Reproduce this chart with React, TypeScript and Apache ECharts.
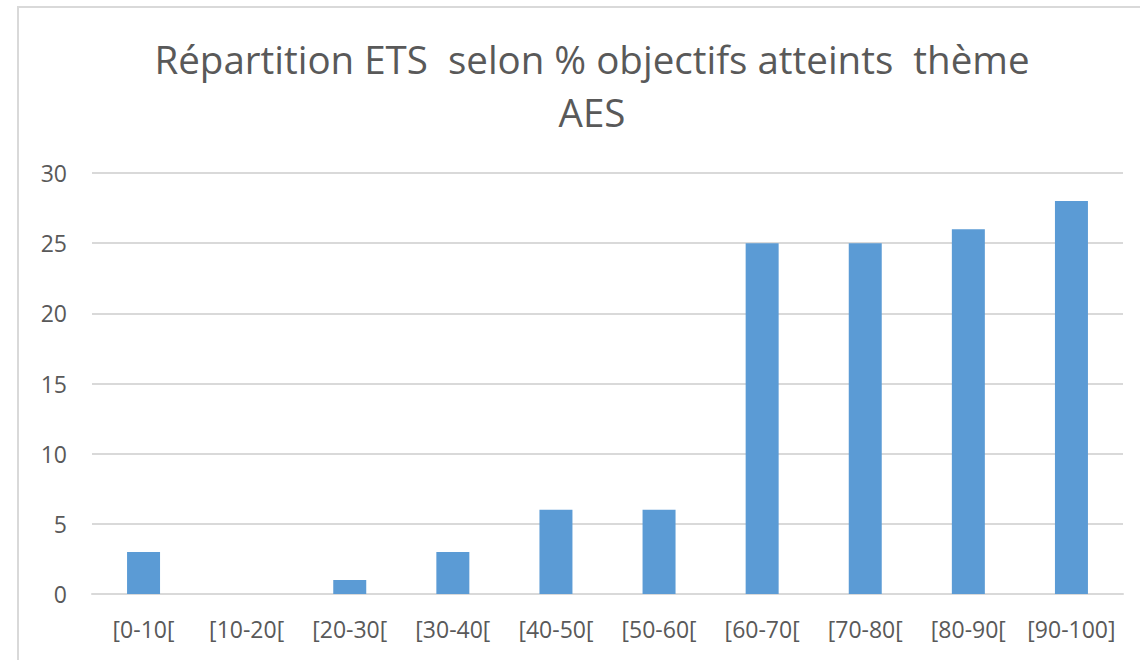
import React, { useEffect, useRef } from "react";
import * as echarts from "echarts";

const categories = ["[0-10[", "[10-20[", "[20-30[", "[30-40[", "[40-50[", "[50-60[", "[60-70[", "[70-80[", "[80-90[", "[90-100]"];
const values = [3, 0, 1, 3, 6, 6, 25, 25, 26, 28];
const titleText = "Répartition ETS  selon % objectifs atteints  thème\nAES";

export default function App() {
  const ref = useRef<HTMLDivElement>(null);
  useEffect(() => {
    const chart = echarts.init(ref.current!, null, { renderer: "svg" });
    chart.setOption({
      animation: false,
      backgroundColor: "#ffffff",
      textStyle: { fontFamily: "Open Sans" },
      graphic: [
        {
          type: "rect",
          shape: { x: 18, y: 7, width: 1160, height: 700 },
          style: { fill: "none", stroke: "#d9d9d9", lineWidth: 2 },
          silent: true,
        },
      ],
      title: {
        text: titleText,
        left: 587,
        top: 27,
        textAlign: "center",
        textStyle: {
          color: "#595959",
          fontFamily: "Open Sans",
          fontWeight: "normal",
          fontSize: 38.5,
          lineHeight: 53,
        },
      },
      grid: { left: 92, right: 17, top: 173, bottom: 66, containLabel: false },
      xAxis: {
        type: "category",
        data: categories,
        axisLine: { show: true, lineStyle: { color: "#d9d9d9", width: 2 } },
        axisTick: { show: false },
        axisLabel: { color: "#595959", fontSize: 23, margin: 23, fontFamily: "Open Sans", interval: 0 },
      },
      yAxis: {
        type: "value",
        min: 0,
        max: 30,
        interval: 5,
        axisLine: { show: false },
        axisTick: { show: false },
        splitLine: { lineStyle: { color: "#d9d9d9", width: 2 } },
        axisLabel: { color: "#595959", fontSize: 23, margin: 25, fontFamily: "Open Sans" },
      },
      series: [
        {
          type: "bar",
          data: values,
          barWidth: "32%",
          itemStyle: { color: "#5b9bd5" },
        },
      ],
    });
    return () => chart.dispose();
  }, []);
  return (
    <div
      ref={ref}
      style={{ position: "fixed", left: 0, top: 0, width: 1140, height: 660 }}
    />
  );
}
